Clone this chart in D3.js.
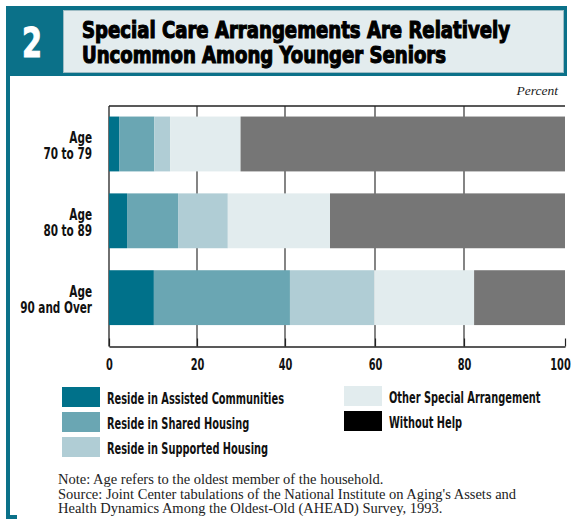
<!DOCTYPE html>
<html>
<head>
<meta charset="utf-8">
<script src="https://cdn.jsdelivr.net/npm/d3@7"></script>
<style>
  html, body { margin: 0; padding: 0; background: #fff; }
  svg { display: block; }
</style>
</head>
<body>
<svg id="chart" width="582" height="519"></svg>
<script>
// ---------------- data ----------------
const chartNumber = "2";
const titleLines = ["Special Care Arrangements Are Relatively", "Uncommon Among Younger Seniors"];
const unitLabel = "Percent";
const categories = ["Age 70 to 79", "Age 80 to 89", "Age 90 and Over"];
const seriesNames = [
  "Reside in Assisted Communities",
  "Reside in Shared Housing",
  "Reside in Supported Housing",
  "Other Special Arrangement",
  "Without Help"
];
const assisted  = [2.3, 4.1, 10.2];
const shared    = [8.0, 11.6, 30.9];
const supported = [3.6, 11.3, 18.7];
const other     = [16.0, 23.0, 22.2];
const without   = [70.1, 50.0, 18.0];
const tickValues = [0, 20, 40, 60, 80, 100];
const noteLines = [
  "Note: Age refers to the oldest member of the household.",
  "Source: Joint Center tabulations of the National Institute on Aging's Assets and",
  "Health Dynamics Among the Oldest-Old (AHEAD) Survey, 1993."
];

// ---------------- styles ----------------
const barColors = ["#00718a", "#6aa6b3", "#b0cdd5", "#e2ecee", "#767676"];
const legendColors = ["#00718a", "#6aa6b3", "#b0cdd5", "#e2ecee", "#000000"];
const teal = "#0b7189";
const condFont = "'Liberation Sans Narrow', 'DejaVu Sans Condensed', 'Arial Narrow', sans-serif";
const serifFont = "'Liberation Serif', 'Times New Roman', serif";

const svg = d3.select("#chart");
svg.append("rect").attr("width", 582).attr("height", 519).attr("fill", "#fff");

// ---------------- header ----------------
svg.append("rect").attr("x", 6).attr("y", 6).attr("width", 561).attr("height", 70).attr("fill", teal);
svg.append("rect").attr("x", 6).attr("y", 76).attr("width", 4).attr("height", 443).attr("fill", teal);
svg.append("rect").attr("x", 6).attr("y", 515).attr("width", 11).attr("height", 4).attr("fill", teal);
svg.append("rect").attr("x", 63.5).attr("y", 10.5).attr("width", 500).attr("height", 62)
  .attr("fill", "#e3ecee").attr("stroke", "#9dbcc4").attr("stroke-width", 1);

svg.append("text").attr("x", 32).attr("y", 57)
  .attr("text-anchor", "middle").attr("fill", "#fff")
  .attr("font-family", condFont).attr("font-weight", "bold").attr("font-size", 41)
  .attr("stroke", "#fff").attr("stroke-width", 1)
  .attr("textLength", 20).attr("lengthAdjust", "spacingAndGlyphs")
  .text(chartNumber);

const titleSel = svg.selectAll("text.title").data(titleLines).join("text")
  .attr("class", "title")
  .attr("x", 82).attr("y", (d, i) => 37.5 + i * 25)
  .attr("fill", "#000").attr("stroke", "#000").attr("stroke-width", 1.1)
  .attr("font-family", condFont).attr("font-weight", "bold").attr("font-size", 23)
  .text(d => d);

// title condensation factor based on first line's target width
const tLen = titleSel.nodes()[0].getComputedTextLength();
const kTitle = 428 / tLen;
titleSel.each(function () {
  const L = this.getComputedTextLength();
  d3.select(this).attr("textLength", L * kTitle).attr("lengthAdjust", "spacingAndGlyphs");
});

svg.append("text").attr("x", 558).attr("y", 95).attr("text-anchor", "end")
  .attr("font-family", serifFont).attr("font-style", "italic").attr("font-size", 13.5)
  .attr("fill", "#222").text(unitLabel);

// ---------------- scales ----------------
const x = d3.scaleLinear().domain(tickValues).range([109, 197, 285, 375, 464, 565]);
const y = d3.scaleBand().domain(categories).range([106, 346.5])
  .paddingInner(0.286).paddingOuter(0.208).align(0.33);

// ---------------- stack ----------------
const rows = categories.map((c, i) => ({
  cat: c,
  [seriesNames[0]]: assisted[i],
  [seriesNames[1]]: shared[i],
  [seriesNames[2]]: supported[i],
  [seriesNames[3]]: other[i],
  [seriesNames[4]]: without[i]
}));
const stacked = d3.stack().keys(seriesNames)(rows);

// gridlines (behind bars)
const plot = svg.append("g");
plot.selectAll("line.grid").data(tickValues.slice(1, -1)).join("line")
  .attr("class", "grid")
  .attr("x1", d => x(d)).attr("x2", d => x(d))
  .attr("y1", 106).attr("y2", 346.5)
  .attr("stroke", "#333").attr("stroke-width", 1.2);
// frame: top and left
plot.append("line").attr("x1", x(0)).attr("x2", x(100)).attr("y1", 106).attr("y2", 106)
  .attr("stroke", "#222").attr("stroke-width", 1.3);
plot.append("line").attr("x1", x(0)).attr("x2", x(0)).attr("y1", 106).attr("y2", 346.5)
  .attr("stroke", "#222").attr("stroke-width", 1.3);

// bars
plot.selectAll("g.series").data(stacked).join("g")
  .attr("class", "series")
  .attr("fill", (d, i) => barColors[i])
  .selectAll("rect").data(d => d).join("rect")
  .attr("x", d => x(d[0]))
  .attr("width", d => x(d[1]) - x(d[0]))
  .attr("y", d => y(d.data.cat))
  .attr("height", y.bandwidth());

// x axis
const axis = svg.append("g").attr("transform", "translate(0,346.5)")
  .call(d3.axisBottom(x).tickValues(tickValues).tickSizeInner(-8).tickSizeOuter(0).tickPadding(12)
    .tickFormat(d3.format("d")));
axis.select(".domain").attr("stroke", "#222").attr("stroke-width", 1.3);
axis.selectAll(".tick line").attr("stroke", "#222").attr("stroke-width", 1.2);
const tickTexts = axis.selectAll(".tick text")
  .attr("font-family", condFont).attr("font-weight", "bold").attr("font-size", 16)
  .attr("fill", "#111")
  .attr("dx", d => d === 100 ? -5 : 0);

// category labels (one text per line)
const catLabelNodes = [];
categories.forEach(c => {
  const sp = c.indexOf(" ");
  const lines = [c.slice(0, sp), c.slice(sp + 1)];
  const cy = y(c) + y.bandwidth() / 2;
  lines.forEach((l, j) => {
    const t = svg.append("text").attr("text-anchor", "end")
      .attr("x", 92).attr("y", cy - 1 + j * 16)
      .attr("font-family", condFont).attr("font-weight", "bold").attr("font-size", 15.5)
      .attr("fill", "#111").text(l);
    catLabelNodes.push(t.node());
  });
});

// legend
const legendPos = [
  { x: 62, y: 387 }, { x: 62, y: 412 }, { x: 62, y: 437 },
  { x: 344, y: 386 }, { x: 344, y: 411 }
];
const lg = svg.append("g");
const legendTexts = [];
seriesNames.forEach((s, i) => {
  const p = legendPos[i];
  lg.append("rect").attr("x", p.x).attr("y", p.y).attr("width", 38).attr("height", 20)
    .attr("fill", legendColors[i]);
  legendTexts.push(lg.append("text").attr("x", p.x + 45).attr("y", p.y + 17)
    .attr("font-family", condFont).attr("font-weight", "bold").attr("font-size", 16)
    .attr("fill", "#111").text(s));
});

// condense body texts to match the reference's narrow face
const kBody = 177 / legendTexts[0].node().getComputedTextLength();
function condense(node, k) {
  const L = node.getComputedTextLength();
  d3.select(node).attr("textLength", L * k).attr("lengthAdjust", "spacingAndGlyphs");
}
legendTexts.forEach(t => condense(t.node(), kBody));
tickTexts.each(function () { condense(this, kBody); });
catLabelNodes.forEach(n => condense(n, Math.min(1, kBody * 1.1)));

// notes
svg.selectAll("text.note").data(noteLines).join("text")
  .attr("class", "note")
  .attr("x", 58).attr("y", (d, i) => 484 + i * 14.5)
  .attr("font-family", serifFont).attr("font-size", 14.5).attr("fill", "#222")
  .text(d => d);
</script>
</body>
</html>
